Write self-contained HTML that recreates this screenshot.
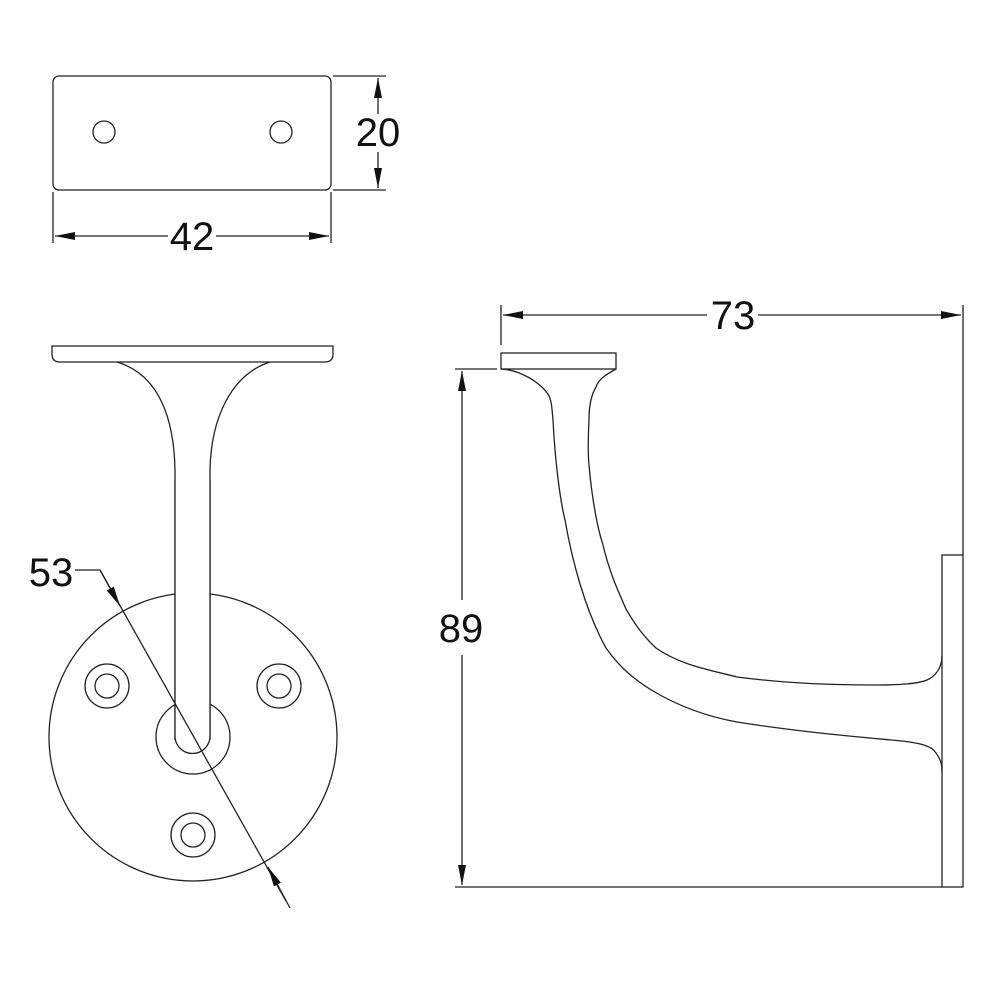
<!DOCTYPE html>
<html><head><meta charset="utf-8"><style>
html,body{margin:0;padding:0;background:#fff}
svg{display:block}
text{font-family:"Liberation Sans",Arial,sans-serif;font-size:40px;fill:#111}
</style></head><body>
<svg width="1000" height="1000" viewBox="0 0 1000 1000" xmlns="http://www.w3.org/2000/svg">
<defs>
<marker id="a" viewBox="0 0 20 8" refX="20" refY="4" markerWidth="20" markerHeight="8" markerUnits="userSpaceOnUse" orient="auto-start-reverse"><path d="M0,0 L20,4 L0,8 Z" fill="#111"/></marker>
</defs>
<g fill="none" stroke="#222" stroke-width="1.3">
<!-- top view -->
<rect x="53" y="76" width="278" height="114" rx="6"/>
<circle cx="104" cy="132" r="11"/>
<circle cx="281" cy="132" r="11"/>
<line x1="333" y1="76" x2="386" y2="76"/>
<line x1="333" y1="190" x2="386" y2="190"/>
<line x1="378" y1="78" x2="378" y2="114" marker-start="url(#a)"/>
<line x1="378" y1="152" x2="378" y2="188" marker-end="url(#a)"/>
<line x1="53" y1="192" x2="53" y2="243"/>
<line x1="331" y1="192" x2="331" y2="243"/>
<line x1="55" y1="236" x2="168" y2="236" marker-start="url(#a)"/>
<line x1="216" y1="236" x2="329" y2="236" marker-end="url(#a)"/>

<!-- front view -->
<circle cx="193" cy="737" r="144"/>
<circle cx="193" cy="737" r="37"/>
<circle cx="107" cy="686" r="22"/><circle cx="107" cy="686" r="12"/>
<circle cx="279" cy="686" r="22"/><circle cx="279" cy="686" r="12"/>
<circle cx="193" cy="835" r="22"/><circle cx="193" cy="835" r="12"/>
<path d="M175,740 L175,470 C174,420 160,375 117,362 M210,740 L210,470 C211,420 230,375 270,362" fill="none"/>
<path d="M175,480 L175,736 A17.5,17.5 0 0 0 210,736 L210,480" fill="#fff"/>
<path d="M52,346 L333,346 L333,354 Q333,362 325,362 L60,362 Q52,362 52,354 Z" fill="#fff"/>
<polyline points="75,570 100,570 286,901"/>
<line x1="100" y1="570" x2="120" y2="606" marker-end="url(#a)"/>
<line x1="290" y1="908" x2="268" y2="867" marker-end="url(#a)"/>

<!-- side view -->
<rect x="501" y="353" width="115" height="16"/>
<path d="M501,369 C520,370 540,382 548.6,395 C552,402 552,410 553,420 C555,460 560,500 565,520 C572,560 585,610 606,648 C620,668 635,680 653,691 C685,710 715,718 737,722 C800,732 860,737 902,741 C920,743 932,746 936,753 C941,760 942,765 942,772"/>
<path d="M616,369 C605,375 598,380 596,387 C590,397 589,410 589,420 C588,440 588,455 589,465 C592,500 598,530 602.5,543 C610,575 620,595 626,609 C635,625 645,638 656,648 C680,665 710,670 737,677 C790,684 840,685 872,685 C900,685 920,684 929,679 C938,674 942,665 942,656"/>
<rect x="942" y="555" width="21" height="332"/>
<line x1="455" y1="369" x2="497" y2="369"/>
<line x1="455" y1="887" x2="942" y2="887"/>
<line x1="462" y1="371" x2="462" y2="600" marker-start="url(#a)"/>
<line x1="462" y1="655" x2="462" y2="885" marker-end="url(#a)"/>
<line x1="501" y1="305" x2="501" y2="345"/>
<line x1="963" y1="305" x2="963" y2="555"/>
<line x1="503" y1="315" x2="707" y2="315" marker-start="url(#a)"/>
<line x1="758" y1="315" x2="961" y2="315" marker-end="url(#a)"/>
</g>
<text x="378" y="146" text-anchor="middle">20</text>
<text x="192" y="250" text-anchor="middle">42</text>
<text x="51" y="586" text-anchor="middle">53</text>
<text x="461" y="642" text-anchor="middle">89</text>
<text x="733" y="329" text-anchor="middle">73</text>
</svg>
</body></html>
